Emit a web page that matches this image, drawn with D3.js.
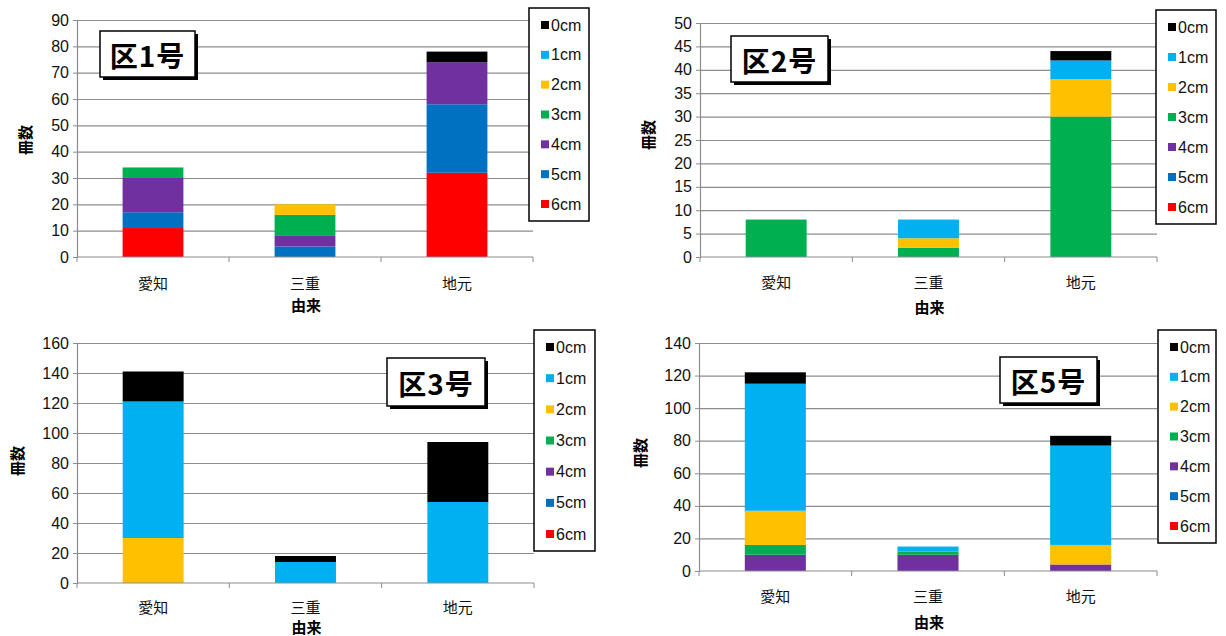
<!DOCTYPE html>
<html>
<head>
<meta charset="utf-8">
<script src="https://cdn.jsdelivr.net/npm/d3@7"></script>
<style>
  body { margin: 0; background: #fff; }
  .num { font-family: "Liberation Sans", Arial, sans-serif; }
  .jp { font-family: "Noto Sans CJK JP", sans-serif; }
</style>
</head>
<body>
<div id="chart"></div>
<script>
// Data
//= ================================
var sizes = ["0cm", "1cm", "2cm", "3cm", "4cm", "5cm", "6cm"];
var categories = ["愛知", "三重", "地元"];
var sizeColors = ["#000000", "#00b0f0", "#ffc000", "#00b050", "#7030a0", "#0070c0", "#ff0000"];

// rows follow sizes (0cm..6cm), columns follow categories
var ku1Values = [[0, 0, 4], [0, 0, 0], [0, 4, 0], [4, 8, 0], [13, 4, 16], [6, 4, 26], [11, 0, 32]];
var ku2Values = [[0, 0, 2], [0, 4, 4], [0, 2, 8], [8, 2, 30], [0, 0, 0], [0, 0, 0], [0, 0, 0]];
var ku3Values = [[20, 4, 40], [91, 14, 54], [30, 0, 0], [0, 0, 0], [0, 0, 0], [0, 0, 0], [0, 0, 0]];
var ku5Values = [[7, 0, 6], [78, 3, 61], [21, 0, 12], [6, 2, 0], [10, 10, 4], [0, 0, 0], [0, 0, 0]];

var panelTitles = ["区1号", "区2号", "区3号", "区5号"];
var yMaxes = [90, 50, 160, 140];
var ySteps = [10, 5, 20, 20];

// Layout of the four panels
//= ================================
var panels = [
  { values: ku1Values, x0: 77, x1: 533, top: 20, bottom: 257,
    legend: { x: 529, y: 8, w: 60, h: 213 }, box: { x: 100, y: 31, w: 95, h: 46 },
    yTitle: { x: 24, y: 140 }, catY: 282, xTitleY: 304 },
  { values: ku2Values, x0: 700, x1: 1157, top: 23, bottom: 257,
    legend: { x: 1156, y: 10, w: 60, h: 214 }, box: { x: 731, y: 36, w: 97, h: 46 },
    yTitle: { x: 647, y: 135 }, catY: 281, xTitleY: 306 },
  { values: ku3Values, x0: 77, x1: 534, top: 343, bottom: 583,
    legend: { x: 534, y: 330, w: 61, h: 221 }, box: { x: 387, y: 358, w: 98, h: 48 },
    yTitle: { x: 16, y: 461 }, catY: 606, xTitleY: 626 },
  { values: ku5Values, x0: 699, x1: 1157, top: 343, bottom: 571,
    legend: { x: 1158, y: 330, w: 58, h: 213 }, box: { x: 1000, y: 357, w: 97, h: 46 },
    yTitle: { x: 639, y: 453 }, catY: 595, xTitleY: 621 }
];

var svg = d3.select("#chart").append("svg")
  .attr("width", 1226)
  .attr("height", 636);

panels.forEach(function(p, k) { drawPanel(p, k); });

function drawPanel(p, k) {
  var g = svg.append("g");

  // build stacked rows
  var rows = categories.map(function(c, i) {
    var r = { cat: c };
    sizes.forEach(function(s, j) { r[s] = p.values[j][i]; });
    return r;
  });
  var keys = sizes.slice().reverse(); // 6cm at the bottom
  var stacked = d3.stack().keys(keys)(rows);

  var x = d3.scaleBand()
    .domain(categories)
    .range([p.x0, p.x1])
    .paddingInner(0.6)
    .paddingOuter(0.3);

  var y = d3.scaleLinear()
    .domain([0, yMaxes[k]])
    .range([p.bottom, p.top]);

  var tickVals = d3.range(0, yMaxes[k] + 0.1, ySteps[k]);

  // gridlines
  g.append("g")
    .attr("transform", "translate(" + p.x0 + ",0)")
    .call(d3.axisLeft(y).tickValues(tickVals.slice(1)).tickSize(-(p.x1 - p.x0)).tickFormat(""))
    .call(function(a) {
      a.select(".domain").remove();
      a.selectAll("line").attr("stroke", "#8c8c8c").attr("stroke-width", 1.2);
    });

  // bars
  g.append("g")
    .selectAll("g")
    .data(stacked)
    .enter()
    .append("g")
      .attr("fill", function(d) { return sizeColors[sizes.indexOf(d.key)]; })
    .selectAll("rect")
    .data(function(d) { return d; })
    .enter()
    .append("rect")
      .attr("x", function(d) { return x(d.data.cat); })
      .attr("width", x.bandwidth())
      .attr("y", function(d) { return y(d[1]); })
      .attr("height", function(d) { return y(d[0]) - y(d[1]); });

  // y axis
  g.append("g")
    .attr("transform", "translate(" + p.x0 + ",0)")
    .call(d3.axisLeft(y).tickValues(tickVals).tickSize(4).tickPadding(4))
    .call(function(a) {
      a.select(".domain").attr("stroke", "#8c8c8c").attr("stroke-width", 1.2);
      a.selectAll("line").attr("stroke", "#8c8c8c");
      a.selectAll("text")
        .attr("class", "num")
        .attr("font-size", "16px")
        .attr("fill", "#111");
    });

  // category axis line and boundary ticks
  g.append("line")
    .attr("x1", p.x0).attr("x2", p.x1)
    .attr("y1", y(0)).attr("y2", y(0))
    .attr("stroke", "#8c8c8c").attr("stroke-width", 1.2);
  g.append("g")
    .selectAll("line")
    .data(d3.range(categories.length + 1))
    .enter()
    .append("line")
      .attr("x1", function(i) { return p.x0 + i * x.step(); })
      .attr("x2", function(i) { return p.x0 + i * x.step(); })
      .attr("y1", y(0))
      .attr("y2", y(0) + 5)
      .attr("stroke", "#8c8c8c");

  g.append("g")
    .selectAll("text")
    .data(categories)
    .enter()
    .append("text")
      .attr("class", "jp")
      .attr("x", function(d) { return x(d) + x.bandwidth() / 2; })
      .attr("y", p.catY)
      .attr("text-anchor", "middle")
      .attr("dominant-baseline", "central")
      .attr("font-size", "15px")
      .attr("fill", "#111")
      .text(function(d) { return d; });

  // axis titles
  g.append("text")
    .attr("class", "jp")
    .attr("x", (p.x0 + p.x1) / 2 + 1)
    .attr("y", p.xTitleY)
    .attr("text-anchor", "middle")
    .attr("dominant-baseline", "central")
    .attr("font-size", "15px")
    .attr("font-weight", "bold")
    .text("由来");

  g.append("text")
    .attr("class", "jp")
    .attr("transform", "translate(" + p.yTitle.x + "," + p.yTitle.y + ") rotate(-90)")
    .attr("text-anchor", "middle")
    .attr("dominant-baseline", "central")
    .attr("font-size", "15px")
    .attr("font-weight", "bold")
    .text("冊数");

  // legend
  var lg = g.append("g");
  lg.append("rect")
    .attr("x", p.legend.x).attr("y", p.legend.y)
    .attr("width", p.legend.w).attr("height", p.legend.h)
    .attr("fill", "#fff").attr("stroke", "#000").attr("stroke-width", 1.5);
  var itemStep = (p.legend.h - 34) / (sizes.length - 1);
  var items = lg.selectAll("g")
    .data(sizes)
    .enter()
    .append("g")
      .attr("transform", function(d, i) {
        return "translate(" + (p.legend.x + 12) + "," + (p.legend.y + 17 + i * itemStep) + ")";
      });
  items.append("rect")
    .attr("x", 0).attr("y", -4)
    .attr("width", 8).attr("height", 8)
    .attr("fill", function(d, i) { return sizeColors[i]; });
  items.append("text")
    .attr("class", "num")
    .attr("x", 10)
    .attr("y", 0)
    .attr("dominant-baseline", "central")
    .attr("font-size", "16px")
    .attr("fill", "#111")
    .text(function(d) { return d; });

  // title box with shadow
  var b = p.box;
  g.append("rect")
    .attr("x", b.x + 3).attr("y", b.y + 3)
    .attr("width", b.w).attr("height", b.h)
    .attr("fill", "#000");
  g.append("rect")
    .attr("x", b.x).attr("y", b.y)
    .attr("width", b.w).attr("height", b.h)
    .attr("fill", "#fff").attr("stroke", "#000").attr("stroke-width", 1.5);
  g.append("text")
    .attr("class", "jp")
    .attr("x", b.x + b.w / 2)
    .attr("y", b.y + b.h / 2 + 1)
    .attr("text-anchor", "middle")
    .attr("dominant-baseline", "central")
    .attr("font-size", "28px")
    .attr("font-weight", "bold")
    .attr("letter-spacing", "1px")
    .text(panelTitles[k]);
}
</script>
</body>
</html>
